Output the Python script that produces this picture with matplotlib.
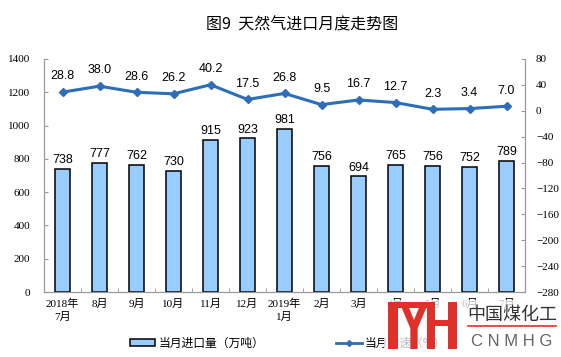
import matplotlib
matplotlib.use("Agg")
import matplotlib.pyplot as plt
from matplotlib.patches import Rectangle, Polygon
from matplotlib.lines import Line2D
import numpy as np

months = ["2018年\n7月", "8月", "9月", "10月", "11月", "12月", "2019年\n1月",
          "2月", "3月", "4月", "5月", "6月", "7月"]
imports = [738, 777, 762, 730, 915, 923, 981, 756, 694, 765, 756, 752, 789]
growth = [28.8, 38.0, 28.6, 26.2, 40.2, 17.5, 26.8, 9.5, 16.7, 12.7, 2.3, 3.4, 7.0]

W, H = 561, 357
cjk = ["Liberation Serif", "Noto Sans CJK SC"]
sans_cjk = ["Noto Sans CJK SC", "DejaVu Sans"]


def fx(x):
    return x / W


def fy(y):
    return 1 - y / H


fig = plt.figure(figsize=(W / 100, H / 100), dpi=100)
ax = fig.add_axes([fx(44), fy(292), fx(525) - fx(44), fy(59) - fy(292)])
ax2 = ax.twinx()

x = np.arange(len(months))
ax.bar(x, imports, width=0.4, color="#99CCFF", edgecolor="black",
       linewidth=1.1, zorder=2)
for xi, v in zip(x, imports):
    ax.annotate(str(v), (xi, v), xytext=(0, 2), textcoords="offset points",
                ha="center", va="bottom", fontsize=9, family="Liberation Sans")

ax.set_xlim(-0.5, len(months) - 0.5)
ax.set_ylim(0, 1400)
ax.set_yticks(range(0, 1401, 200))
ax.set_xticks(x)
ax.set_xticklabels(months, family=cjk, fontsize=8, linespacing=1.3)
ax.set_xticks(np.arange(-0.5, len(months), 1), minor=True)
ax.tick_params(axis="x", which="major", length=0, pad=5)
ax.tick_params(axis="x", which="minor", length=3, direction="in", color="#999999")
ax.tick_params(axis="y", length=3, direction="in", color="#999999", labelsize=8, pad=10)
for lab in ax.get_yticklabels():
    lab.set_family("Liberation Serif")

ax2.plot(x, growth, color="#2E6DB8", linewidth=2.2, marker="D", markersize=4.5,
         zorder=3)
for xi, v in zip(x, growth):
    ax2.annotate(f"{v:.1f}", (xi, v), xytext=(0, 7), textcoords="offset points",
                 ha="center", va="bottom", fontsize=9, family="Liberation Sans")
ax2.set_ylim(-280, 80)
ax2.set_yticks(range(-280, 81, 40))
ax2.tick_params(axis="y", length=3, direction="in", color="#999999", labelsize=8, pad=8)
for lab in ax2.get_yticklabels():
    lab.set_family("Liberation Serif")

for a in (ax, ax2):
    a.spines["top"].set_visible(False)
    for s in ("left", "right", "bottom"):
        a.spines[s].set_color("#999999")
        a.spines[s].set_linewidth(0.8)

fig.text(fx(302), fy(25), "图9  天然气进口月度走势图", ha="center", va="center",
         fontsize=11.5, family=sans_cjk)

handles = [Rectangle((0, 0), 1, 1, facecolor="#99CCFF", edgecolor="black", linewidth=1.1),
           Line2D([], [], color="#2E6DB8", linewidth=2, marker="D", markersize=3)]
fig.legend(handles, ["当月进口量（万吨）", "当月增速（%）"], loc="center",
           bbox_to_anchor=(fx(288), fy(343)), ncol=2, frameon=False,
           prop={"family": sans_cjk, "size": 8.5}, handlelength=2.2,
           handleheight=0.6, handletextpad=0.3, columnspacing=6.0)

# watermark logo over the lower right corner
red = "#E0302A"


def px_rect(x0, y0, x1, y1, color=red, alpha=1.0, zorder=10):
    return Rectangle((fx(x0), fy(y1)), fx(x1) - fx(x0), fy(y0) - fy(y1),
                     transform=fig.transFigure, facecolor=color, edgecolor="none",
                     alpha=alpha, zorder=zorder)


def z(zx, zy):
    return (fx(355 + zx / 3), fy(295 + zy / 3))


logo = [px_rect(384, 300, 561, 357, color="white", alpha=0.75, zorder=9)]
for (a0, b0, a1, b1) in [(100, 20, 215, 38), (100, 20, 128, 162),
                         (215, 20, 240, 162), (240, 75, 278, 93),
                         (278, 20, 305, 162)]:
    logo.append(px_rect(355 + a0 / 3, 295 + b0 / 3, 355 + a1 / 3, 295 + b1 / 3))
logo.append(Polygon([z(140, 38), z(162, 38), z(177, 75), z(192, 38), z(214, 38),
                     z(188, 100), z(188, 162), z(166, 162), z(166, 100)],
                    closed=True, transform=fig.transFigure, facecolor=red,
                    edgecolor="none", zorder=10))
for p in logo:
    fig.patches.append(p)
fig.add_artist(Line2D([fx(468), fx(556)], [fy(326), fy(326)], color=red,
                      linewidth=1.2, transform=fig.transFigure, zorder=10))
fig.text(fx(512), fy(315), "中国煤化工", ha="center", va="center", fontsize=13,
         family=sans_cjk, color="#333333", zorder=10)
fig.text(fx(512), fy(341), "C N M H G", ha="center", va="center", fontsize=12,
         family="Liberation Sans", color="#666666", zorder=10)

fig.savefig("out.png", dpi=100)
